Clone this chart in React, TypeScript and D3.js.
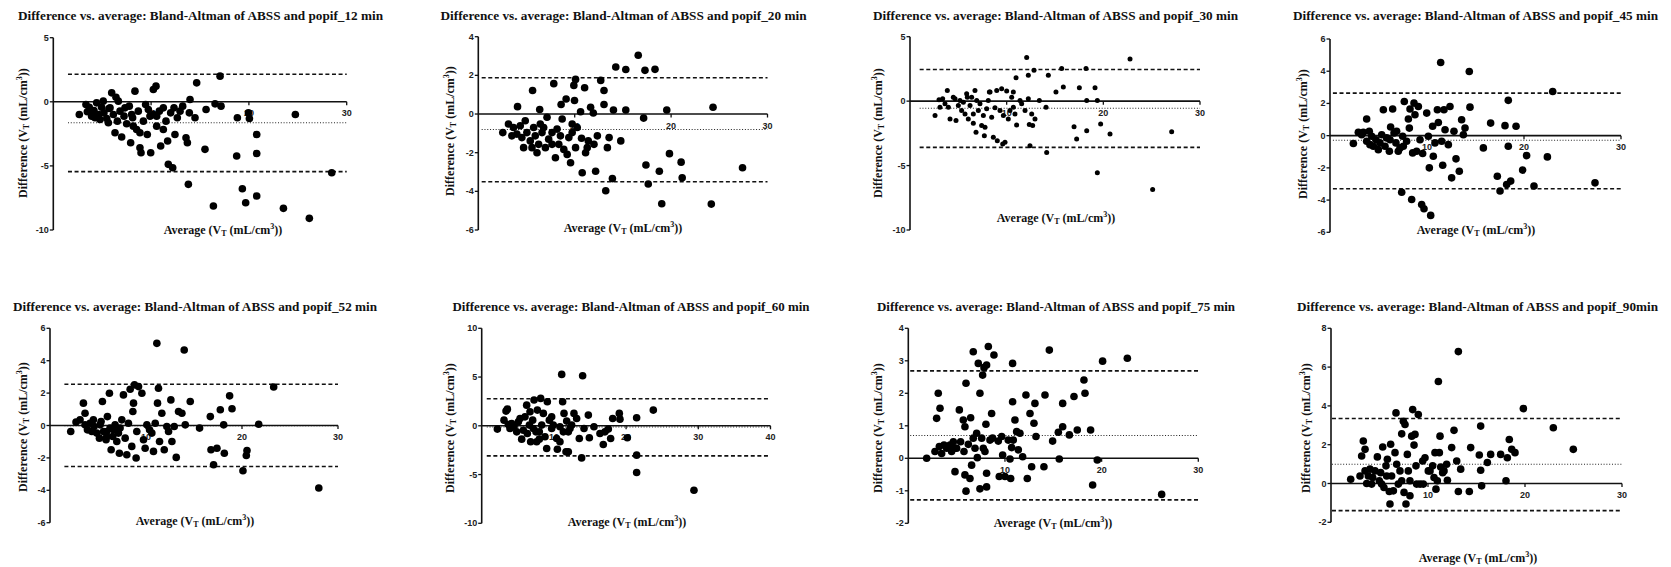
import React from "react";
import * as d3 from "d3";

// ---------------- DATA ----------------
const titles = [
  "Difference vs. average: Bland-Altman of ABSS and popif_12 min",
  "Difference vs. average: Bland-Altman of ABSS and popif_20 min",
  "Difference vs. average: Bland-Altman of ABSS and popif_30 min",
  "Difference vs. average: Bland-Altman of ABSS and popif_45 min",
  "Difference vs. average: Bland-Altman of ABSS and popif_52 min",
  "Difference vs. average: Bland-Altman of ABSS and popif_60 min",
  "Difference vs. average: Bland-Altman of  ABSS and popif_75 min",
  "Difference vs. average: Bland-Altman of ABSS and popif_90min",
];

const xDomains: [number, number][] = [[0, 30], [0, 30], [0, 30], [0, 30], [0, 30], [0, 40], [0, 30], [0, 30]];
const yDomains: [number, number][] = [[-10, 5], [-6, 4], [-10, 5], [-6, 6], [-6, 6], [-10, 10], [-2, 4], [-2, 8]];
const yTickValues = [
  [5, 0, -5, -10],
  [4, 2, 0, -2, -4, -6],
  [5, 0, -5, -10],
  [6, 4, 2, 0, -2, -4, -6],
  [6, 4, 2, 0, -2, -4, -6],
  [10, 5, 0, -5, -10],
  [4, 3, 2, 1, 0, -1, -2],
  [8, 6, 4, 2, 0, -2],
];
const xTickValues = [[10, 20, 30], [10, 20, 30], [10, 20, 30], [10, 20, 30], [10, 20, 30], [10, 20, 30, 40], [10, 20, 30], [10, 20, 30]];

// upper limit of agreement, mean bias, lower limit of agreement
const upperLoA = [2.15, 1.88, 2.45, 2.64, 2.55, 2.77, 2.69, 3.35];
const meanBias = [-1.63, -0.8, -0.55, -0.29, -0.02, -0.12, 0.7, 0.99];
const lowerLoA = [-5.45, -3.5, -3.59, -3.3, -2.53, -3.08, -1.28, -1.4];
const lineStartX = [1.5, 0.35, 1.0, 0.3, 1.5, 0.7, 0.2, 0.1];

const pts12: [number, number][] = [
  [2.66, -0.99], [3.48, -0.78], [3.68, -0.42], [3.92, -1.12], [4.16, -0.68], [4.43, -0.08], [4.64, -0.99], [4.77, -1.38],
  [4.94, -0.42], [5.18, -0.86], [5.46, -1.3], [5.69, -0.52], [5.97, 0.7], [6.14, -0.99], [6.41, 0.36], [6.31, -2.42],
  [6.55, -1.51], [6.82, -0.73], [6.99, -2.75], [7.23, -1.12], [7.5, -1.71], [7.77, -0.34], [7.91, -3.19], [8.11, -1.25],
  [8.35, 0.83], [8.52, -2.16], [8.69, -0.73], [8.86, -3.58], [8.97, -3.97], [9.21, -1.51], [9.44, -0.21], [9.61, -2.55],
  [9.89, -1.12], [9.96, -3.97], [10.23, 0.96], [10.5, 1.22], [10.57, -1.9], [10.84, -0.73], [10.98, -3.45], [11.25, -2.16],
  [11.52, -1.51], [11.69, -3.06], [11.76, -4.88], [12.0, -0.86], [12.21, -5.14], [12.34, -0.47], [12.44, -2.55], [12.68, -1.25],
  [13.23, -0.34], [13.57, -2.81], [13.71, -3.19], [13.81, -6.44], [13.98, 0.18], [13.91, -0.86], [14.49, -1.25], [14.66, 1.48],
  [15.51, -3.71], [15.62, -0.6], [16.37, -8.13], [16.54, -0.16], [17.05, 2.0], [17.15, -0.34], [18.82, -1.25], [18.75, -4.23],
  [19.33, -6.78], [19.67, -7.87], [19.95, -0.86], [20.05, -1.3], [20.8, -2.55], [20.8, -4.03], [20.8, -7.35], [23.53, -8.31],
  [24.75, -0.99], [26.18, -9.09], [28.47, -5.53], [3.34, -0.21], [4.26, -1.25], [5.11, 0.05], [5.63, -1.64], [6.65, 0.05],
  [7.33, -0.47], [8.18, -1.9], [9.72, -0.6], [10.23, -0.99], [11.25, -0.47], [12.96, -0.73], [5.8, -0.47], [8.01, -0.99],
  [8.86, -2.42], [10.57, -1.12],
];

const pts20: [number, number][] = [
  [2.54, -0.96], [3.13, -0.52], [3.65, -0.7], [4.07, 0.38], [4.0, -1.04], [4.35, -0.61], [4.52, -1.22], [4.87, -0.35],
  [5.04, -0.96], [5.39, -1.39], [5.63, 1.22], [5.74, -0.7], [5.91, -1.13], [6.26, -1.57], [6.37, 0.23], [6.61, -0.96],
  [6.78, -0.7], [6.96, -1.74], [7.13, -0.17], [7.3, -1.3], [7.65, -0.96], [7.83, 1.57], [8.0, -2.26], [8.17, -0.78],
  [8.35, -1.57], [8.59, 0.49], [8.7, -0.26], [8.87, -1.83], [9.11, 0.78], [9.39, -1.22], [9.57, -2.52], [9.74, -0.52],
  [9.91, 1.48], [10.09, 1.79], [9.98, 0.7], [10.09, -1.74], [10.26, -0.7], [10.61, 0.12], [10.71, -1.25], [10.78, -3.04],
  [11.03, 1.36], [11.13, -2.0], [11.41, -1.39], [11.65, 0.35], [11.93, 0.05], [12.17, -2.96], [12.35, -1.13], [12.7, 1.74],
  [13.04, 1.22], [13.04, 0.49], [13.22, -3.97], [13.39, -1.74], [13.57, -1.22], [13.91, -3.34], [14.02, 0.21], [14.26, 2.43],
  [14.78, -1.39], [15.3, 2.3], [15.3, 0.21], [16.59, 3.04], [17.15, -0.21], [17.29, 2.26], [17.39, -2.64], [17.63, -3.62],
  [18.33, 2.31], [18.78, -2.96], [19.03, -4.64], [19.55, 0.21], [19.83, -2.05], [21.04, -2.49], [21.15, -3.3], [24.17, -4.66],
  [24.35, 0.35], [27.41, -2.78], [4.7, -1.74], [6.09, -2.0], [7.65, -1.57], [9.22, -2.09], [3.48, -1.13], [5.57, -1.74],
  [8.52, -1.13], [9.74, -0.96], [11.3, -1.74], [6.43, -0.52], [12.0, -1.57],
];

const pts30: [number, number][] = [
  [2.59, -1.12], [3.0, 0.1], [3.38, 0.18], [3.86, 0.83], [3.62, -0.21], [3.97, -0.47], [4.14, -1.38], [4.66, 0.18],
  [4.76, -1.51], [4.48, 0.31], [5.0, -0.34], [5.34, -0.73], [5.52, -0.08], [5.69, -0.99], [5.86, 0.57], [5.93, 0.31],
  [6.03, -1.38], [6.21, -0.34], [6.55, -0.99], [6.55, -1.72], [6.72, 0.83], [6.83, -2.42], [6.9, 0.05], [7.07, -0.73],
  [7.24, -0.21], [7.41, -1.9], [7.59, -1.12], [7.76, -2.03], [7.93, -0.6], [8.1, 0.05], [8.28, 0.7], [7.69, -2.68],
  [8.21, 0.7], [8.45, -1.25], [8.62, -2.81], [8.79, -0.52], [8.97, 0.83], [9.03, -3.07], [9.31, -0.73], [9.48, 0.96],
  [9.59, -3.33], [9.66, -1.12], [9.83, -3.2], [10.0, 0.78], [10.17, -1.38], [10.34, -0.73], [10.52, 0.31], [10.69, 0.7],
  [10.86, -0.99], [10.97, 1.82], [11.03, -1.85], [11.38, 0.05], [11.55, -0.21], [12.07, 3.39], [12.24, 2.01], [12.24, 0.18],
  [12.34, -1.82], [12.41, -3.46], [12.59, -0.99], [12.69, -1.9], [12.83, 2.4], [12.93, -1.38], [13.38, 0.05], [14.07, -0.47],
  [14.14, -3.98], [14.31, 2.01], [15.1, 0.7], [15.69, 2.53], [15.86, 1.09], [16.97, -1.98], [17.24, -2.94], [17.52, 1.04],
  [18.21, 2.53], [18.28, 0.05], [18.28, -2.29], [19.14, 1.04], [19.38, 0.05], [19.38, -5.55], [19.72, -1.77], [20.69, -2.55],
  [22.76, 3.26], [25.1, -6.85], [27.07, -2.37], [3.1, -0.47], [5.17, 0.05], [6.38, 0.31], [10.69, -0.47], [11.9, -0.73],
];

const pts45: [number, number][] = [
  [2.41, -0.49], [2.92, 0.21], [3.26, 0.06], [3.44, 0.21], [3.78, 1.03], [3.78, -0.35], [4.05, 0.27], [4.3, -0.04],
  [4.47, -0.66], [4.74, -0.25], [4.98, -0.87], [5.33, 0.06], [5.5, 1.61], [5.67, -0.66], [5.84, -0.14], [6.12, -0.97],
  [6.25, 0.54], [6.46, 1.65], [6.6, 0.16], [6.8, -0.45], [7.04, -0.97], [7.22, -0.76], [7.39, -3.51], [7.49, -0.04],
  [7.66, 2.12], [7.9, -0.35], [8.08, 1.03], [8.18, 0.47], [8.25, 1.65], [8.42, -3.96], [8.52, -1.07], [8.66, 2.02],
  [8.76, 1.3], [9.11, 1.81], [9.28, -0.25], [9.45, -4.27], [9.55, -1.11], [9.69, -4.54], [9.97, 1.4], [10.14, -0.04],
  [10.24, -2.0], [10.38, -4.95], [10.58, 0.58], [10.65, -1.28], [10.82, -0.45], [11.07, 1.61], [11.17, 0.82], [11.41, 4.54],
  [11.51, -0.35], [11.62, -1.84], [11.75, 1.61], [11.86, 0.37], [12.2, -0.56], [12.37, 1.81], [12.54, -2.62], [12.78, 0.27],
  [12.99, -1.44], [13.33, -2.21], [13.57, 0.99], [13.75, 0.06], [13.92, 0.47], [14.36, 3.98], [14.43, 1.77], [15.81, -0.76],
  [16.56, 0.78], [17.25, -2.52], [17.53, -3.44], [18.04, 0.62], [18.21, -3.03], [18.38, -0.66], [18.38, 2.19], [18.63, -2.82],
  [19.18, 0.58], [19.86, -2.14], [20.27, -1.24], [21.03, -3.13], [22.41, -1.32], [22.96, 2.74], [27.32, -2.93], [4.12, -0.56],
  [5.15, -0.45], [6.19, -0.25], [7.56, -0.66], [8.93, -0.97], [6.87, 0.27],
];

const pts52: [number, number][] = [
  [2.16, -0.37], [2.71, 0.21], [3.13, 0.35], [3.48, 1.38], [3.65, 0.76], [3.65, 0.04], [3.9, -0.27], [4.17, 0.14],
  [4.35, -0.37], [4.59, -0.06], [4.87, -0.47], [5.15, -0.78], [5.32, 0.25], [5.46, 1.48], [5.57, -0.37], [5.84, -0.88],
  [5.98, 0.55], [6.19, 1.99], [6.26, -0.16], [6.37, -1.5], [6.54, -0.68], [6.78, 0.04], [6.96, -0.99], [7.13, -0.47],
  [7.23, -1.71], [7.48, 0.35], [7.65, 1.89], [7.83, -0.78], [8.0, -1.81], [8.17, 0.14], [8.35, 2.24], [8.52, -1.29],
  [8.63, 0.86], [8.7, 1.38], [8.8, 2.51], [8.97, -2.01], [9.04, -0.37], [9.22, 2.4], [9.57, 1.99], [9.74, -0.88],
  [9.91, -1.4], [10.09, 0.04], [10.37, -0.27], [10.61, -0.47], [10.78, -1.6], [10.96, 0.14], [11.13, 5.07], [11.2, 1.38],
  [11.3, 2.3], [11.41, -0.99], [11.65, 0.76], [11.9, -1.5], [12.17, -0.06], [12.35, -0.37], [12.59, 1.58], [12.7, -0.99],
  [12.94, -0.06], [13.15, -1.97], [13.39, 0.86], [13.74, 0.76], [13.98, 4.66], [14.09, 0.04], [14.61, 1.48], [15.58, -0.16],
  [16.7, 0.55], [16.77, -1.5], [17.04, -2.42], [17.39, -1.4], [17.74, 0.97], [18.09, 0.04], [18.16, -1.71], [18.71, 1.83],
  [18.96, 1.03], [20.1, -2.79], [20.45, -1.85], [20.52, -1.54], [21.74, 0.08], [23.3, 2.38], [28.0, -3.86], [5.22, 0.04],
  [5.91, -0.37], [6.61, -0.27], [7.3, -0.16], [4.52, 0.35], [5.91, -0.68],
];

const pts60: [number, number][] = [
  [2.17, -0.34], [3.09, 0.58], [3.37, 1.51], [3.55, 1.71], [3.69, 0.14], [3.92, -0.27], [4.48, -0.1], [5.08, 0.41],
  [5.31, 0.75], [5.54, -1.37], [5.77, -0.45], [6.0, 0.92], [6.23, 2.12], [6.32, -0.79], [6.6, 0.07], [6.78, -1.64],
  [7.06, 0.58], [7.25, 2.64], [7.52, -0.62], [7.71, 1.61], [7.98, -1.37], [8.17, 2.81], [8.31, 0.07], [8.54, 1.27],
  [8.77, -1.13], [9.0, -2.33], [9.09, 2.47], [9.37, 0.58], [9.69, -0.27], [9.92, 0.07], [10.48, -2.4], [10.84, -0.1],
  [11.08, 5.27], [11.21, 2.47], [11.31, -0.62], [11.4, 1.27], [11.68, -2.67], [11.77, 0.48], [12.0, -0.62], [12.23, -0.27],
  [12.46, 0.07], [12.78, 1.27], [13.15, 0.75], [13.52, -1.3], [13.84, -3.29], [13.98, 5.14], [14.17, -0.27], [14.77, 1.1],
  [14.91, -1.23], [15.55, -0.1], [16.38, -0.79], [16.84, -1.92], [17.07, -0.62], [17.54, -0.34], [17.86, -1.3], [18.14, 0.75],
  [19.06, 1.27], [19.15, 0.68], [20.17, -1.23], [21.46, 0.82], [21.46, -3.01], [21.46, -4.79], [23.77, 1.61], [29.4, -6.61],
  [4.15, 0.24], [4.85, -0.62], [7.15, -0.27], [7.98, -0.62], [9.69, 0.92], [10.38, -1.3], [10.84, -1.64], [12.0, -2.67],
  [7.61, -1.64], [6.69, 1.44],
];

const pts75: [number, number][] = [
  [1.9, 0.0], [2.76, 0.21], [2.93, 1.23], [3.1, 2.0], [3.28, 1.54], [3.21, 0.36], [3.45, 0.15], [3.69, 0.41],
  [3.97, 0.31], [4.31, 0.41], [4.48, 0.21], [4.66, 0.51], [4.83, -0.41], [4.83, 0.31], [5.0, 0.31], [5.28, 1.49],
  [5.41, 0.51], [5.69, 1.18], [5.76, 0.21], [5.86, -0.51], [5.86, 0.97], [5.97, 2.31], [5.97, -1.01], [6.21, 0.43],
  [6.38, -0.62], [6.45, 1.25], [6.55, -0.21], [6.72, 3.28], [6.72, 0.62], [6.9, 0.31], [7.07, 0.77], [7.14, 0.02],
  [7.24, 2.92], [7.41, 2.0], [7.41, -0.94], [7.59, 0.62], [7.69, 2.56], [7.76, 0.31], [7.83, 2.79], [7.93, 0.21],
  [8.03, 1.05], [8.1, -0.46], [8.1, 2.87], [8.1, -0.88], [8.28, 3.44], [8.45, 0.56], [8.62, 1.38], [8.86, 3.18],
  [8.72, 0.62], [9.31, 0.53], [9.41, -0.56], [9.66, 0.67], [9.76, 0.1], [10.0, -0.56], [10.34, 0.56], [10.52, -0.02],
  [10.59, -0.62], [10.69, 0.33], [10.79, 2.92], [10.79, 1.74], [10.86, 0.56], [11.03, 1.18], [11.21, 0.82], [11.38, 0.26],
  [11.55, 0.77], [11.83, 0.05], [12.17, 1.95], [12.31, -0.62], [12.59, 1.38], [12.76, -0.26], [13.0, 1.08], [13.1, 1.69],
  [13.21, 0.67], [14.03, -0.26], [14.14, 1.95], [14.59, 3.33], [14.93, 0.53], [15.52, 0.8], [15.62, -0.02], [15.97, 1.69],
  [15.97, 0.97], [16.66, 0.72], [17.14, 1.9], [17.48, 0.87], [18.17, 2.41], [18.28, 2.0], [18.86, 0.87], [19.07, -0.82],
  [19.55, -0.05], [20.1, 2.99], [22.66, 3.08], [26.21, -1.11],
];

const pts90: [number, number][] = [
  [2.03, 0.22], [2.99, 0.39], [3.16, 1.42], [3.33, 2.19], [3.51, 1.76], [3.51, 0.65], [3.68, 0.0], [3.85, 0.39],
  [4.02, 0.74], [4.3, 0.31], [4.54, 0.65], [4.78, 1.37], [4.98, 0.14], [5.12, 0.56], [5.33, 1.88], [5.46, -0.21],
  [5.67, 0.91], [5.81, 1.25], [6.01, -0.41], [6.08, -1.06], [6.15, 2.02], [6.25, 0.39], [6.43, -0.38], [6.6, 1.59],
  [6.7, 3.64], [6.77, 0.99], [6.94, -0.03], [7.11, 0.65], [7.29, 2.56], [7.46, 3.21], [7.53, -0.46], [7.63, 3.04],
  [7.73, -1.06], [7.87, 1.5], [7.97, 0.65], [8.14, -0.63], [8.32, 2.44], [8.42, 3.81], [8.56, 1.98], [8.66, 2.53],
  [8.76, 0.91], [8.83, -0.03], [9.0, 3.56], [9.18, -0.03], [9.45, 1.16], [9.52, -0.03], [9.69, 1.33], [10.03, 0.65],
  [10.21, 0.65], [10.48, 0.91], [10.62, 0.31], [10.72, 1.59], [10.82, -0.29], [10.96, 0.14], [11.07, 5.26], [11.17, 1.59],
  [11.24, 2.44], [11.31, 0.85], [11.51, 0.56], [11.65, 0.65], [11.92, 0.99], [12.0, 0.17], [12.44, 1.85], [12.68, 2.74],
  [12.96, 1.16], [13.13, 6.8], [13.13, -0.41], [13.37, 0.74], [14.26, -0.41], [14.4, 1.85], [15.29, 1.47], [15.43, 2.96],
  [15.43, 0.68], [15.53, -0.12], [16.12, 1.08], [16.46, 1.5], [17.49, 1.5], [18.04, 0.14], [18.18, 1.33], [18.38, 2.27],
  [18.63, 1.76], [18.97, 1.59], [19.83, 3.86], [22.92, 2.87], [24.98, 1.76], [4.19, -0.03], [5.22, -0.03], [5.74, 0.39],
  [7.29, 0.14], [8.14, 0.14],
];

const points = [pts12, pts20, pts30, pts45, pts52, pts60, pts75, pts90];

// ---------------- LAYOUT ----------------
type Layout = {
  x0: number; x1: number; yTop: number; yBot: number;
  titleX: number; titleY: number; titleW: number;
  xlabX: number; xlabY: number; ylabX: number; ylabY: number; r: number;
};
const layouts: Layout[] = [
  { x0: 53.3, x1: 346.7, yTop: 37.7, yBot: 230, titleX: 200.5, titleY: 15, titleW: 365, xlabX: 223, xlabY: 230, ylabX: 23, ylabY: 133, r: 3.8 },
  { x0: 478.3, x1: 767.5, yTop: 36.7, yBot: 230, titleX: 623.5, titleY: 15, titleW: 366, xlabX: 623, xlabY: 228, ylabX: 450, ylabY: 131, r: 3.8 },
  { x0: 910, x1: 1200, yTop: 36.7, yBot: 230, titleX: 1055.5, titleY: 15, titleW: 365, xlabX: 1056, xlabY: 218, ylabX: 878, ylabY: 133, r: 2.5 },
  { x0: 1330, x1: 1621, yTop: 39, yBot: 232.3, titleX: 1475.5, titleY: 15, titleW: 365, xlabX: 1476, xlabY: 230, ylabX: 1303, ylabY: 134, r: 3.8 },
  { x0: 50, x1: 338, yTop: 328.3, yBot: 522.7, titleX: 195, titleY: 306.7, titleW: 364, xlabX: 195, xlabY: 521, ylabX: 23, ylabY: 427, r: 3.8 },
  { x0: 481.7, x1: 770.5, yTop: 328.3, yBot: 523.3, titleX: 631, titleY: 306.7, titleW: 357, xlabX: 627, xlabY: 522, ylabX: 450, ylabY: 428, r: 3.8 },
  { x0: 908.3, x1: 1198.3, yTop: 328.3, yBot: 523.3, titleX: 1056, titleY: 306.7, titleW: 358, xlabX: 1053, xlabY: 523, ylabX: 878, ylabY: 428, r: 3.8 },
  { x0: 1331, x1: 1622, yTop: 328.3, yBot: 522.3, titleX: 1477.5, titleY: 306.7, titleW: 361, xlabX: 1478, xlabY: 558, ylabX: 1306, ylabY: 428, r: 3.8 },
];

const SERIF = "'Liberation Serif', 'Times New Roman', serif";
const SANS = "'Liberation Sans', Arial, sans-serif";

function AxisLabel({ base, x, y, rotate }: { base: string; x: number; y: number; rotate?: boolean }) {
  return (
    <text
      x={x}
      y={y}
      transform={rotate ? `rotate(-90 ${x} ${y})` : undefined}
      textAnchor="middle"
      dominantBaseline="central"
      fontFamily={SERIF}
      fontWeight="bold"
      fontSize={12}
      fill="#111"
    >
      {base} (V
      <tspan dy={3} fontSize={8}>T</tspan>
      <tspan dy={-3}> (mL/cm</tspan>
      <tspan dy={-4} fontSize={8}>3</tspan>
      <tspan dy={4}>))</tspan>
    </text>
  );
}

function Panel({ i }: { i: number }) {
  const L = layouts[i];
  const x = d3.scaleLinear().domain(xDomains[i]).range([L.x0, L.x1]);
  const y = d3.scaleLinear().domain(yDomains[i]).range([L.yBot, L.yTop]);
  const xEnd = xDomains[i][1];
  const xs = lineStartX[i];
  const y0 = y(0);
  return (
    <g>
      <text x={L.titleX} y={L.titleY} textAnchor="middle" dominantBaseline="central"
        textLength={L.titleW} lengthAdjust="spacingAndGlyphs"
        fontFamily={SERIF} fontWeight="bold" fontSize={13} fill="#111">{titles[i]}</text>
      {/* limits of agreement */}
      <line x1={x(xs)} x2={x(xEnd)} y1={y(upperLoA[i])} y2={y(upperLoA[i])} stroke="#111" strokeWidth={1.6} strokeDasharray="4,2.6" />
      <line x1={x(xs)} x2={x(xEnd)} y1={y(lowerLoA[i])} y2={y(lowerLoA[i])} stroke="#111" strokeWidth={1.6} strokeDasharray="4,2.6" />
      <line x1={x(xs)} x2={x(xEnd)} y1={y(meanBias[i])} y2={y(meanBias[i])} stroke="#222" strokeWidth={1.1} strokeDasharray="1,1.8" />
      {/* y axis */}
      <line x1={L.x0} x2={L.x0} y1={L.yTop} y2={L.yBot} stroke="#111" strokeWidth={1.6} />
      {yTickValues[i].map((t) => (
        <g key={"y" + t}>
          <line x1={L.x0 - 3.5} x2={L.x0} y1={y(t)} y2={y(t)} stroke="#111" strokeWidth={1.3} />
          <text x={L.x0 - 4.5} y={y(t)} textAnchor="end" dominantBaseline="central"
            fontFamily={SANS} fontWeight="bold" fontSize={9} fill="#222">{t}</text>
        </g>
      ))}
      {/* x axis at zero */}
      <line x1={L.x0} x2={L.x1} y1={y0} y2={y0} stroke="#111" strokeWidth={1.6} />
      {xTickValues[i].map((t) => (
        <g key={"x" + t}>
          <line x1={x(t)} x2={x(t)} y1={y0} y2={y0 + 3.5} stroke="#111" strokeWidth={1.3} />
          <text x={x(t)} y={y0 + 11.5} textAnchor="middle" dominantBaseline="central"
            fontFamily={SANS} fontWeight="bold" fontSize={9} fill="#222">{t}</text>
        </g>
      ))}
      {/* points */}
      {points[i].map((p, k) => (
        <circle key={k} cx={x(p[0])} cy={y(p[1])} r={L.r} fill="#000" />
      ))}
      <AxisLabel base="Average" x={L.xlabX} y={L.xlabY} />
      <AxisLabel base="Difference" x={L.ylabX} y={L.ylabY} rotate />
    </g>
  );
}

export default function App() {
  return (
    <svg
      width={1671}
      height={567}
      viewBox="0 0 1671 567"
      style={{ position: "absolute", left: 0, top: 0, display: "block", background: "#fff" }}
    >
      <rect x={0} y={0} width={1671} height={567} fill="#fff" />
      {titles.map((_, i) => (
        <Panel key={i} i={i} />
      ))}
    </svg>
  );
}
